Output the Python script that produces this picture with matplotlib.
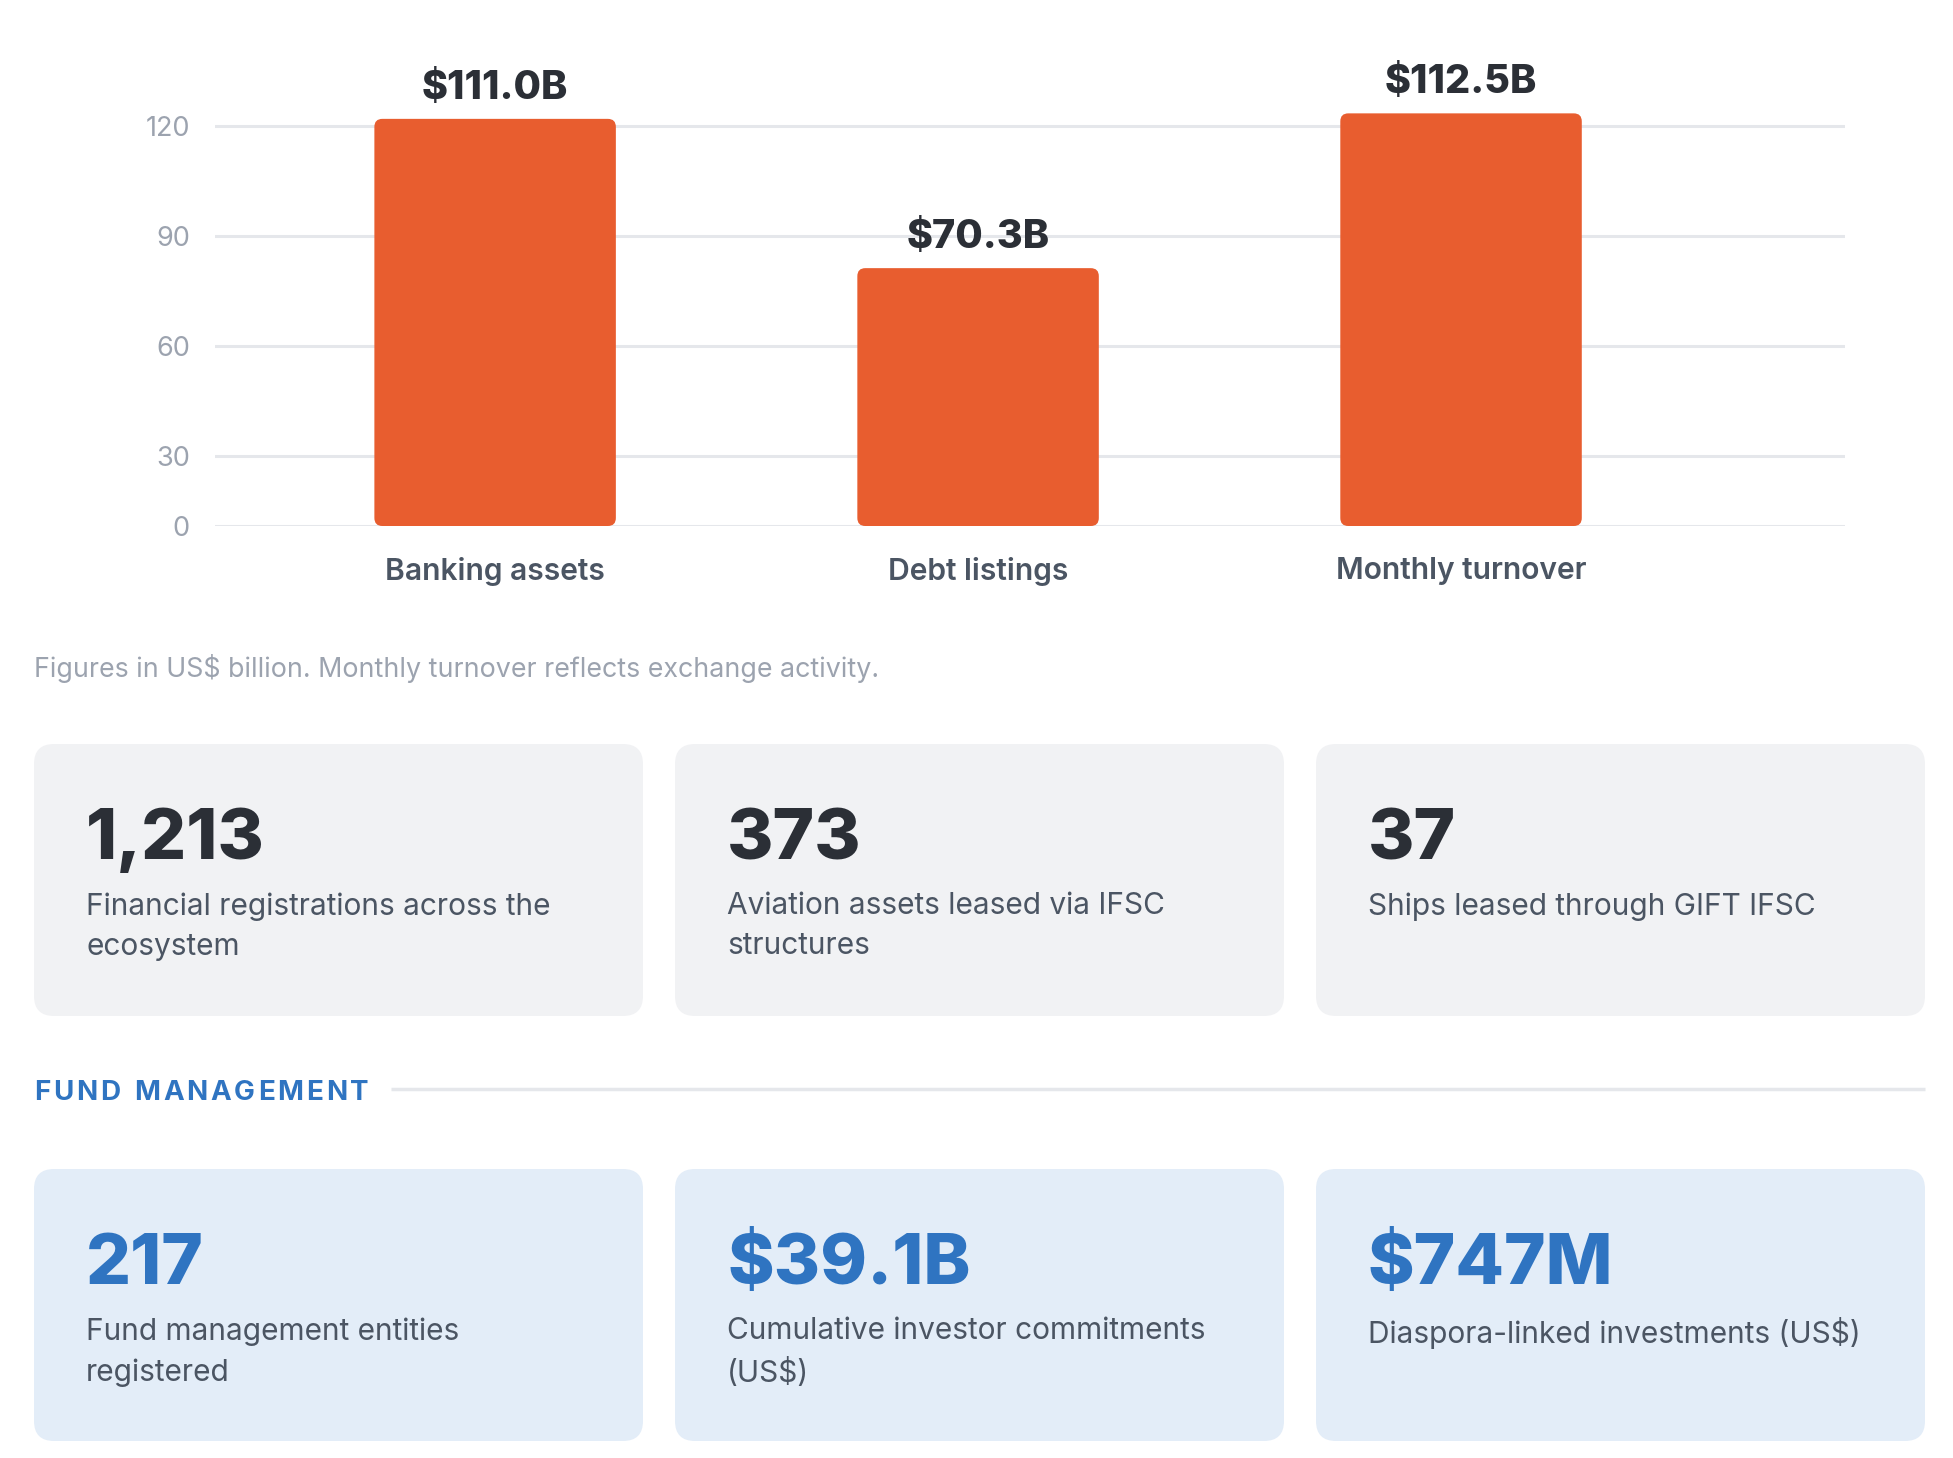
import matplotlib
matplotlib.use("Agg")
import matplotlib.pyplot as plt
from matplotlib.patches import FancyBboxPatch

plt.rcParams['font.family'] = ['Inter', 'DejaVu Sans']

# ---------------- data ----------------
categories = ["Banking assets", "Debt listings", "Monthly turnover"]
values = [111.0, 70.3, 112.5]
value_labels = ["$111.0B", "$70.3B", "$112.5B"]
tick_values = [0, 30, 60, 90, 120]
caption = "Figures in US$ billion. Monthly turnover reflects exchange activity."

stat_numbers = ["1,213", "373", "37"]
stat_texts = ["Financial registrations across the\necosystem",
              "Aviation assets leased via IFSC\nstructures",
              "Ships leased through GIFT IFSC"]

section_title = "FUND MANAGEMENT"
fund_numbers = ["217", "$39.1B", "$747M"]
fund_texts = ["Fund management entities\nregistered",
              "Cumulative investor commitments\n(US$)",
              "Diaspora-linked investments (US$)"]

# ---------------- style ----------------
W, H = 1953, 1458
BAR = "#e85d2f"
DARK = "#2b2f36"
BODY = "#4b5563"
MUTED = "#9ca3af"
GRID = "#e5e7eb"
CARD_GREY = "#f1f2f4"
CARD_BLUE = "#e3edf8"
BLUE = "#2f74c1"

fig = plt.figure(figsize=(W / 100, H / 100), dpi=100)
fig.patch.set_facecolor("white")

# background overlay in pixel coords
bg = fig.add_axes([0, 0, 1, 1], zorder=0)
bg.set_xlim(0, W)
bg.set_ylim(H, 0)
bg.axis("off")

# ---------------- bar chart ----------------
ax_left, ax_right, ax_top, ax_base = 215, 1845, 40, 526
xmin, xmax, ymax = -0.58, 2.795, 132.5
ax = fig.add_axes([ax_left / W, 1 - ax_base / H, (ax_right - ax_left) / W, (ax_base - ax_top) / H], zorder=2)
ax.patch.set_alpha(0)
x = list(range(len(categories)))
ax.set_xlim(xmin, xmax)
ax.set_ylim(0, ymax)
for s in ax.spines.values():
    s.set_visible(False)

tick_shift = 10.85  # gridlines in the reference sit below their nominal value
tick_pos = [0 if v == 0 else v - tick_shift for v in tick_values]
ax.set_yticks(tick_pos, [str(v) for v in tick_values])
ax.yaxis.grid(True, color=GRID, linewidth=2.2)
ax.set_axisbelow(True)
ax.tick_params(axis="y", length=0, pad=18, labelsize=19.5, labelcolor=MUTED)
ax.set_xticks(x, categories)
ax.tick_params(axis="x", length=0, pad=22, labelsize=21.6, labelcolor=BODY)
for t in ax.get_xticklabels():
    t.set_fontweight("semibold")

bw = 0.5
bars = ax.bar(x, values, width=bw, color=BAR, zorder=3)
# replace with rounded bars
px_per_x = (ax_right - ax_left) / (xmax - xmin)
px_per_y = (ax_base - ax_top) / ymax
for b in bars:
    b.set_visible(False)
    r = 8 / px_per_x
    fb = FancyBboxPatch((b.get_x(), b.get_y()), b.get_width(), b.get_height(),
                        boxstyle=f"round,pad=0,rounding_size={r}",
                        mutation_aspect=px_per_x / px_per_y,
                        facecolor=BAR, edgecolor="none", zorder=3)
    ax.add_patch(fb)
for xi, v, lab in zip(x, values, value_labels):
    ax.annotate(lab, (xi, v), xytext=(0, 14.5), textcoords="offset points",
                ha="center", va="baseline", fontsize=28.5, fontweight="heavy", color=DARK)

# caption
bg.text(34, 668, caption, ha="left", va="center", fontsize=19.3, color=MUTED)

# ---------------- cards ----------------
card_l, card_r, gap = 34, 1925, 32
card_w = (card_r - card_l - 2 * gap) / 3
card_h = 272


def draw_cards(top, nums, texts, face, numcolor):
    for i, (n, t) in enumerate(zip(nums, texts)):
        cx = card_l + i * (card_w + gap)
        bg.add_patch(FancyBboxPatch((cx, top), card_w, card_h,
                                    boxstyle="round,pad=0,rounding_size=20",
                                    facecolor=face, edgecolor="none"))
        bg.text(cx + 52, top + 115, n, ha="left", va="baseline", fontsize=51,
                fontweight="heavy", color=numcolor)
        bg.text(cx + 52, top + 148, t, ha="left", va="top", fontsize=21.5,
                color=BODY, linespacing=1.56)


draw_cards(744, stat_numbers, stat_texts, CARD_GREY, DARK)
draw_cards(1169, fund_numbers, fund_texts, CARD_BLUE, BLUE)

# section header with letter spacing
renderer = fig.canvas.get_renderer()
cur = 34
hy = 1100
for ch in section_title:
    t = bg.text(cur, hy, ch, ha="left", va="baseline", fontsize=20, fontweight="bold", color=BLUE)
    ext = t.get_window_extent(renderer=renderer)
    adv = 8 if ch == " " else ext.width
    cur += adv + 2.8
bg.plot([391, 1925], [1089, 1089], color=GRID, linewidth=2.5, solid_capstyle="butt")

fig.savefig("out.png", dpi=100, facecolor="white")
